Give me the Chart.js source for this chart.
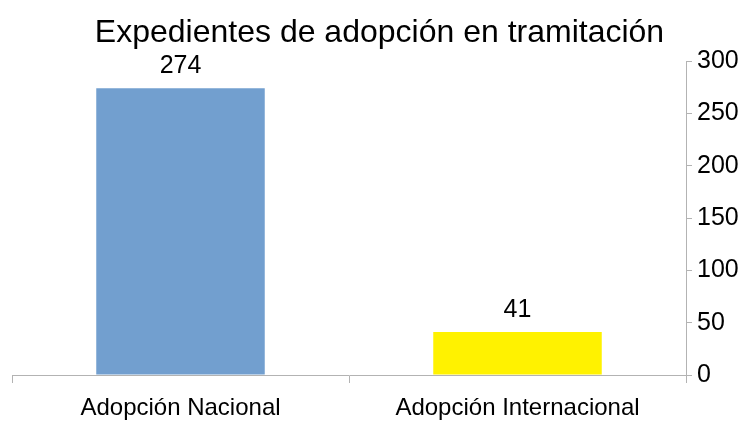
<!DOCTYPE html>
<html lang="es">
<head>
  <meta charset="UTF-8" />
  <title>Expedientes de adopción en tramitación</title>
  <script src="https://cdn.jsdelivr.net/npm/chart.js"></script>
  <style>
    body { margin: 0; background: #fff; }
    canvas { display: block; }
  </style>
</head>
<body>
  <canvas id="chart" width="747" height="421"></canvas>
  <script>
    const categories = ['Adopción Nacional', 'Adopción Internacional'];
    const values = [274, 41];
    const barColors = ['#729fcf', '#fff200'];
    const yTicks = [0, 50, 100, 150, 200, 250, 300];

    const font = 'Liberation Sans, Arial, sans-serif';
    const axisGrey = '#b3b3b3';

    // value labels above each bar
    const valueLabels = {
      id: 'valueLabels',
      afterDatasetsDraw(chart) {
        const ctx = chart.ctx;
        const meta = chart.getDatasetMeta(0);
        ctx.save();
        ctx.font = '25px ' + font;
        ctx.fillStyle = '#000';
        ctx.textAlign = 'center';
        ctx.textBaseline = 'alphabetic';
        meta.data.forEach((bar, i) => {
          ctx.fillText(String(values[i]), bar.x, bar.y - 15);
        });
        ctx.restore();
      }
    };

    new Chart(document.getElementById('chart'), {
      type: 'bar',
      data: {
        labels: categories,
        datasets: [{
          data: values,
          backgroundColor: barColors,
          borderWidth: 0,
          categoryPercentage: 1,
          barPercentage: 0.5
        }]
      },
      options: {
        responsive: false,
        animation: false,
        layout: { padding: { left: 12, right: 0, top: 0, bottom: 0 } },
        plugins: {
          legend: { display: false },
          tooltip: { enabled: false },
          title: {
            display: true,
            text: 'Expedientes de adopción en tramitación',
            color: '#000',
            font: { family: font, size: 32, weight: 'normal' },
            padding: { top: 14, bottom: 8.6 }
          }
        },
        scales: {
          x: {
            offset: true,
            grid: {
              offset: true,
              drawOnChartArea: false,
              drawTicks: true,
              tickLength: 8,
              color: axisGrey
            },
            border: { display: true, color: axisGrey },
            ticks: {
              color: '#000',
              font: { family: font, size: 24 },
              padding: 11
            },
            afterFit(scale) { scale.height = 46; }
          },
          y: {
            position: 'right',
            min: 0,
            max: 300,
            afterBuildTicks(scale) {
              scale.ticks = yTicks.map(v => ({ value: v }));
            },
            grid: {
              drawOnChartArea: false,
              drawTicks: true,
              tickLength: 6,
              color: axisGrey
            },
            border: { display: true, color: axisGrey },
            ticks: {
              color: '#000',
              font: { family: font, size: 25 },
              padding: 5
            },
            afterFit(scale) { scale.width = 61; }
          }
        }
      },
      plugins: [valueLabels]
    });
  </script>
</body>
</html>
